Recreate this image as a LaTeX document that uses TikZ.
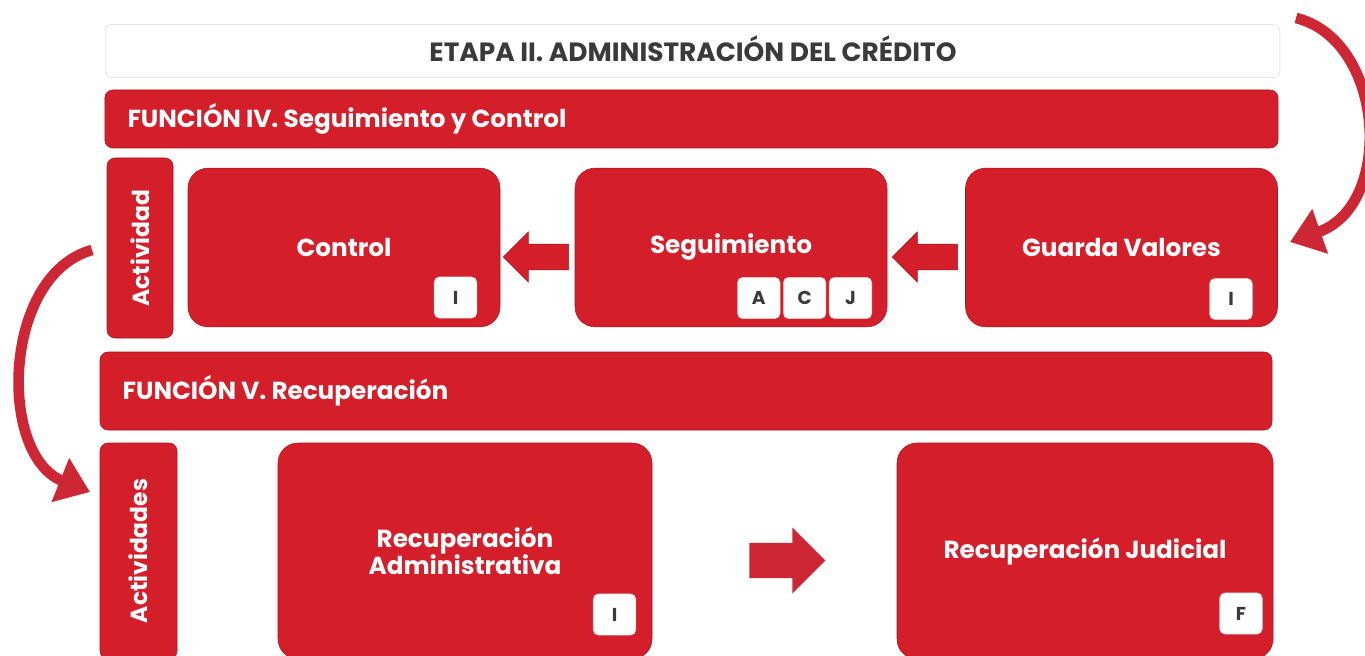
\documentclass[tikz,border=0pt]{standalone}
\usepackage{fontspec}
\setmainfont{Poppins}
\usetikzlibrary{positioning}
\usetikzlibrary{shapes.arrows}
\usetikzlibrary{arrows.meta}

\definecolor{boxred}{RGB}{212,30,42}
\definecolor{edgered}{RGB}{170,20,30}
\definecolor{arcred}{RGB}{205,38,52}
\definecolor{titlegray}{RGB}{58,58,58}

\begin{document}
\begin{tikzpicture}[
		x=0.75pt, y=-0.75pt,
		bar/.style={draw=edgered, fill=boxred, rounded corners=6pt, minimum width=880pt, minimum height=43.5pt},
		bartext/.style={text=white, font=\bfseries\fontsize{18.5}{22}\selectfont, inner sep=0pt},
		side/.style={draw=edgered, fill=boxred, rounded corners=6pt, text=white, font=\bfseries\fontsize{17.5}{21}\selectfont, rotate=90},
		act/.style={draw=edgered, fill=boxred, rounded corners=15pt, minimum width=234pt, minimum height=119pt, text=white, font=\bfseries\fontsize{18.5}{22}\selectfont, align=center},
		key/.style={draw=gray!40, fill=white, rounded corners=4pt, minimum width=32pt, minimum height=31pt, inner sep=0pt, font=\bfseries\fontsize{14}{16}\selectfont, text=titlegray},
		fat/.style={single arrow, fill=boxred, draw=edgered, minimum height=49pt, inner xsep=0pt, inner ysep=9.5pt, single arrow head extend=9pt, shape border rotate=180},
		arc/.style={draw=arcred, line width=8pt, -{Triangle[length=24pt, width=34pt]}},
	]
		\clip (0,0) rectangle (1365,656);

		\node[draw=gray!30, fill=white, rounded corners=5pt, minimum width=881pt, minimum height=40pt] (title) at (692.5,51) {};
		\node[text=titlegray, font=\bfseries\fontsize{19.8}{23}\selectfont] (tt) at (693,49) {ETAPA II. ADMINISTRACIÓN DEL CRÉDITO};

		\node[bar] (f4) at (691.5,119) {};
		\node[bartext, right=17pt of f4.west] (f4t) {FUNCIÓN IV. Seguimiento y Control};

		\node[side, minimum width=135pt, minimum height=49.5pt] (act1) at (140,248) {Actividad};
		\node[act] (control) at (344,247.5) {Control};
		\node[act] (segui) at (731,247.5) {Seguimiento};
		\node[act] (guarda) at (1121.5,247.5) {Guarda Valores};

		\node[key] (ki1) at (455.5,297.5) {I};
		\node[key] (kj) at (850.5,298) {J};
		\node[key, left=2pt of kj] (kc) {C};
		\node[key, left=2pt of kc] (ka) {A};
		\node[key] (ki2) at (1231,299) {I};

		\node[fat] (fl1) at (542.5,257) {};
		\node[fat] (fl2) at (931.5,257) {};

		\node[bar, minimum width=879pt, minimum height=58.5pt] (f5) at (686,391) {};
		\node[bartext, right=17pt of f5.west] (f5t) {FUNCIÓN V. Recuperación};

		\node[side, minimum width=162pt, minimum height=57.75pt] (act2) at (138.5,551) {Actividades};
		\node[act, minimum width=280.5pt, minimum height=162pt] (admin) at (465,551) {Recuperación\\[-2pt]Administrativa};
		\node[act, minimum width=282pt, minimum height=162pt] (judi) at (1085,551) {Recuperación Judicial};

		\node[key] (ki3) at (614.5,614.5) {I};
		\node[key] (kf) at (1241,613.5) {F};

		\node[fat, shape border rotate=0, draw=none, fill=arcred, minimum height=57pt, inner ysep=13pt, single arrow head extend=11.5pt] (fr) at (778.5,560.5) {};

		\coordinate (a1) at (1296,18);
		\coordinate (b1) at (1290,242);
		\coordinate (a2) at (92,250);
		\coordinate (b2) at (90,492);
		\draw[arc] (a1) .. controls (1385,40) and (1395,205) .. (b1);
		\draw[arc] (a2) .. controls (2,275) and (-2,455) .. (b2);
	\end{tikzpicture}
\end{document}
